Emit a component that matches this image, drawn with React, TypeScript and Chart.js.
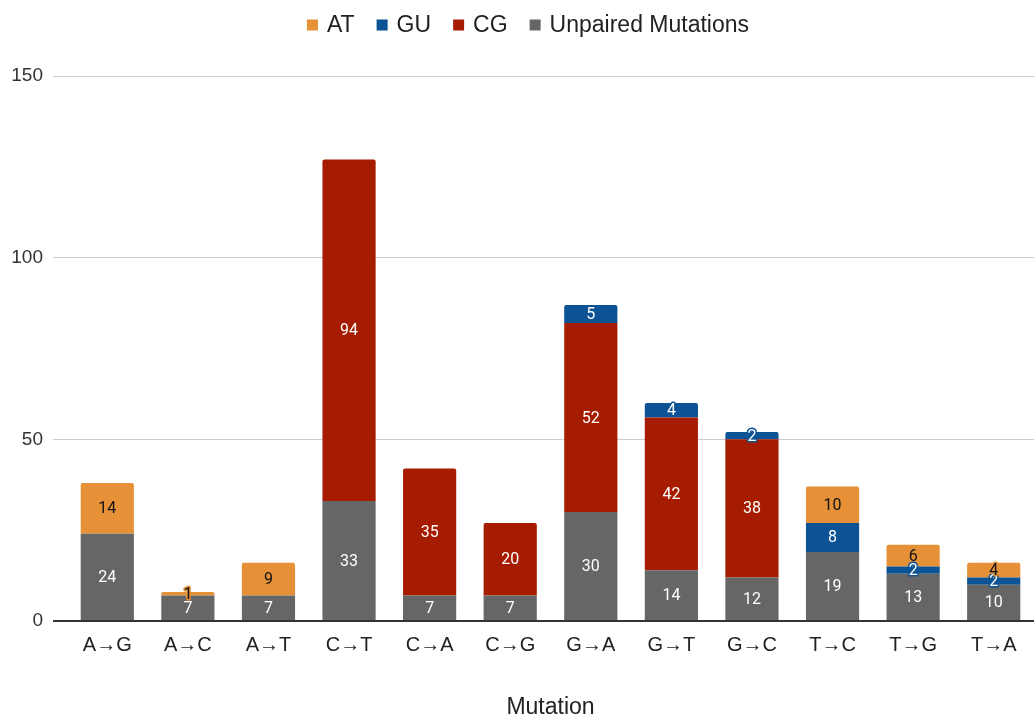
import React, { useEffect, useRef } from "react";
import { Chart, registerables } from "chart.js";

Chart.register(...registerables);

const categories = ["A→G", "A→C", "A→T", "C→T", "C→A", "C→G", "G→A", "G→T", "G→C", "T→C", "T→G", "T→A"];
const unpairedValues = [24, 7, 7, 33, 7, 7, 30, 14, 12, 19, 13, 10];
const cgValues = [null, null, null, 94, 35, 20, 52, 42, 38, null, null, null];
const guValues = [null, null, null, null, null, null, 5, 4, 2, 8, 2, 2];
const atValues = [14, 1, 9, null, null, null, null, null, null, 10, 6, 4];
const yTicks = [0, 50, 100, 150];

const COLORS = {
  unpaired: "#666666",
  cg: "#a61c00",
  gu: "#0b5394",
  at: "#e69138",
};

const LABEL_COLORS = ["#ffffff", "#ffffff", "#ffffff", "#111111"];
const SANS = "'Liberation Sans', Arial, sans-serif";

// Writes each segment's value in the middle of the segment, with a halo
// in the segment colour when the segment is too thin to hold the text.
const segmentLabels = {
  id: "segmentLabels",
  afterDatasetsDraw(chart: any) {
    const ctx = chart.ctx;
    ctx.save();
    ctx.font = "16px Roboto";
    ctx.textAlign = "center";
    ctx.textBaseline = "middle";
    chart.data.datasets.forEach((ds: any, di: number) => {
      const meta = chart.getDatasetMeta(di);
      if (meta.hidden) return;
      meta.data.forEach((bar: any, i: number) => {
        const v = ds.data[i];
        if (v == null || v === 0) return;
        const { x, y, base } = bar.getProps(["x", "y", "base"], true);
        const cy = (y + base) / 2;
        const h = Math.abs(base - y);
        const txt = String(v);
        if (h < 18) {
          ctx.lineWidth = 3;
          ctx.lineJoin = "round";
          ctx.strokeStyle = ds.backgroundColor;
          ctx.strokeText(txt, x, cy + 1);
        }
        ctx.fillStyle = LABEL_COLORS[di];
        ctx.fillText(txt, x, cy + 1);
      });
    });
    ctx.restore();
  },
};

// Single-row legend above the plot, listed from the top of the stack down.
const topLegend = {
  id: "topLegend",
  afterDraw(chart: any) {
    const ctx = chart.ctx;
    const items = chart.data.datasets
      .map((ds: any) => ({ label: ds.label, color: ds.backgroundColor }))
      .reverse();
    const box = 11;
    const gap = 9;
    const spacing = 22;
    ctx.save();
    ctx.font = `23px ${SANS}`;
    ctx.textBaseline = "middle";
    ctx.textAlign = "left";
    const widths = items.map((it: any) => box + gap + ctx.measureText(it.label).width);
    const total = widths.reduce((a: number, b: number) => a + b, 0) + spacing * (items.length - 1);
    let x = 528 - total / 2;
    const cy = 25;
    items.forEach((it: any, i: number) => {
      ctx.fillStyle = it.color;
      ctx.fillRect(x, cy - box / 2, box, box);
      ctx.fillStyle = "#222222";
      ctx.fillText(it.label, x + box + gap, cy + 1);
      x += widths[i] + spacing;
    });
    ctx.restore();
  },
};

export default function App() {
  const canvasRef = useRef<HTMLCanvasElement | null>(null);

  useEffect(() => {
    const canvas = canvasRef.current;
    if (!canvas) return;
    const chart = new Chart(canvas, {
      type: "bar",
      data: {
        labels: categories,
        datasets: [
          { label: "Unpaired Mutations", data: unpairedValues, backgroundColor: COLORS.unpaired },
          { label: "CG", data: cgValues, backgroundColor: COLORS.cg },
          { label: "GU", data: guValues, backgroundColor: COLORS.gu },
          { label: "AT", data: atValues, backgroundColor: COLORS.at },
        ].map((d) => ({
          ...d,
          borderWidth: 0,
          borderRadius: 2,
          borderSkipped: "bottom",
          barPercentage: 0.66,
          categoryPercentage: 1,
        })) as any,
      },
      options: {
        responsive: false,
        animation: false,
        layout: { padding: { top: 76, right: 1, left: 0, bottom: 0 } },
        plugins: {
          legend: { display: false },
          tooltip: { enabled: false },
        },
        scales: {
          x: {
            stacked: true,
            grid: { display: false },
            border: { display: false },
            ticks: {
              color: "#222222",
              padding: 4,
              font: { family: SANS, size: 20 },
            },
            title: {
              display: true,
              text: "Mutation",
              color: "#222222",
              padding: { top: 0, bottom: -4 },
              font: { family: SANS, size: 23, lineHeight: 1 },
            },
            afterFit(scale: any) {
              scale.height = 94;
            },
          },
          y: {
            stacked: true,
            min: 0,
            max: 150,
            afterBuildTicks(scale: any) {
              scale.ticks = yTicks.map((v) => ({ value: v }));
            },
            grid: {
              color: (c: any) => (c.tick && c.tick.value === 0 ? "#333333" : "#cccccc"),
              lineWidth: (c: any) => (c.tick && c.tick.value === 0 ? 2 : 1),
              tickLength: 14,
              drawTicks: true,
            },
            border: { display: false },
            ticks: {
              color: "#333333",
              padding: 10,
              font: { family: SANS, size: 19 },
            },
            afterFit(scale: any) {
              scale.width = 67;
            },
          },
        },
      },
      plugins: [segmentLabels, topLegend],
    });
    return () => chart.destroy();
  }, []);

  return (
    <div style={{ position: "absolute", left: 0, top: 0, width: 1035, height: 715, background: "#ffffff" }}>
      <canvas ref={canvasRef} width={1035} height={715} />
    </div>
  );
}
